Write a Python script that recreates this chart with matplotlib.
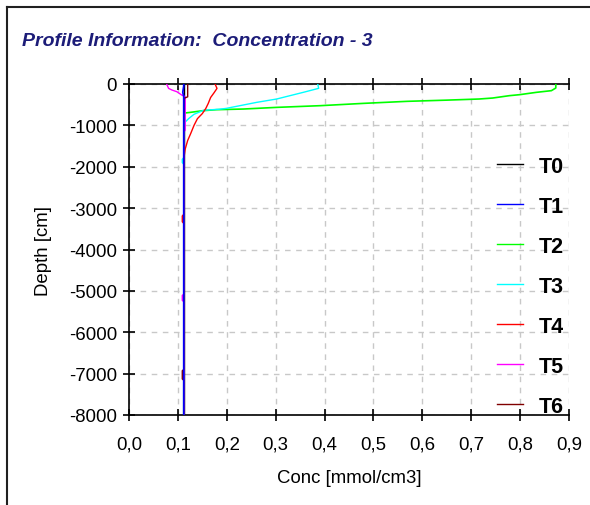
import matplotlib
matplotlib.use("Agg")
import matplotlib.pyplot as plt
from matplotlib.lines import Line2D

# Profile data: concentration [mmol/cm3] vs depth [cm]
labels = ["T0", "T1", "T2", "T3", "T4", "T5", "T6"]
colors = ["#000000", "#0000ff", "#00ff00", "#00ffff", "#ff0000", "#ff00ff", "#800000"]

t0_conc = [0.112, 0.112]
t0_depth = [0, -8000]

t1_conc = [0.112, 0.112, 0.110, 0.112, 0.112]
t1_depth = [0, -50, -200, -300, -8000]

t2_conc = [0.873, 0.873, 0.864, 0.833, 0.799, 0.778, 0.744, 0.716, 0.65, 0.569, 0.48,
           0.391, 0.302, 0.234, 0.179, 0.151, 0.126, 0.115, 0.113, 0.112]
t2_depth = [0, -97, -161, -202, -258, -282, -339, -363, -390, -419, -468,
            -524, -565, -605, -621, -645, -685, -700, -726, -8000]

t3_conc = [0.386, 0.388, 0.357, 0.302, 0.261, 0.199, 0.185, 0.153, 0.133, 0.122, 0.115,
           0.112, 0.112, 0.109, 0.109, 0.112, 0.112]
t3_depth = [0, -105, -200, -363, -444, -589, -610, -634, -732, -837, -919,
            -1010, -1780, -1820, -1900, -1940, -8000]

t4_conc = [0.176, 0.180, 0.174, 0.167, 0.162, 0.157, 0.150, 0.140, 0.133, 0.126, 0.120,
           0.115, 0.113, 0.112, 0.109, 0.109, 0.112, 0.112]
t4_depth = [0, -106, -211, -325, -472, -593, -715, -837, -1000, -1203, -1366,
            -1570, -1730, -3150, -3190, -3330, -3370, -8000]

t5_conc = [0.077, 0.081, 0.088, 0.098, 0.108, 0.115, 0.115, 0.112, 0.112, 0.109, 0.109,
           0.112, 0.112]
t5_depth = [0, -106, -146, -187, -268, -309, -1120, -1150, -5080, -5110, -5230,
            -5260, -8000]

t6_conc = [0.120, 0.120, 0.112, 0.112, 0.109, 0.109, 0.112, 0.112]
t6_depth = [0, -310, -350, -6900, -6930, -7130, -7160, -8000]

x_ticks = [0.0, 0.1, 0.2, 0.3, 0.4, 0.5, 0.6, 0.7, 0.8, 0.9]
x_tick_labels = ["0,0", "0,1", "0,2", "0,3", "0,4", "0,5", "0,6", "0,7", "0,8", "0,9"]
y_ticks = [0, -1000, -2000, -3000, -4000, -5000, -6000, -7000, -8000]


def main():
    plt.rcParams["font.family"] = ["Liberation Sans", "DejaVu Sans"]
    plt.rcParams["axes.unicode_minus"] = False

    fig = plt.figure(figsize=(5.9, 5.06), dpi=100)
    fig.patch.set_facecolor("white")

    # window frame (top and left edges)
    fig.add_artist(Line2D([7 / 590, 1.0], [1 - 8 / 506, 1 - 8 / 506], color="#202020", lw=1.5))
    fig.add_artist(Line2D([7 / 590, 7 / 590], [0.0, 1 - 8 / 506], color="#202020", lw=1.5))

    fig.text(22 / 590, 1 - 42 / 506, "Profile Information:  Concentration - 3",
             fontsize=14, fontweight="bold", fontstyle="italic", color="#1c1c78",
             ha="left", va="center")

    ax = fig.add_axes([129 / 590, 1 - 416 / 506, 440 / 590, 331 / 506])

    series = [(t0_conc, t0_depth), (t1_conc, t1_depth), (t2_conc, t2_depth),
              (t3_conc, t3_depth), (t4_conc, t4_depth), (t5_conc, t5_depth),
              (t6_conc, t6_depth)]
    for i, (conc, depth) in enumerate(series):
        lw = 1.3 if labels[i] == "T1" else 1.0
        if labels[i] == "T2":
            lw = 1.2
        z = 5 if labels[i] == "T1" else 3
        ax.plot(conc, depth, color=colors[i], lw=lw, zorder=z)

    ax.set_xlim(0, 0.9)
    ax.set_ylim(-8000, 0)
    ax.set_xticks(x_ticks)
    ax.set_xticklabels(x_tick_labels)
    ax.set_yticks(y_ticks)

    ax.grid(True, color="#c8c8c8", linestyle=(0, (4, 4)), lw=1)
    ax.set_axisbelow(True)

    ax.spines["right"].set_visible(False)
    for side in ["left", "top", "bottom"]:
        ax.spines[side].set_linewidth(1.2)
    ax.tick_params(axis="both", direction="inout", length=9, width=1.2,
                   labelsize=13.4, pad=4)
    ax.tick_params(axis="x", top=True, pad=10)

    ax.set_xlabel("Conc [mmol/cm3]", fontsize=13.4, labelpad=12)
    ax.set_ylabel("Depth [cm]", fontsize=13.4, labelpad=12)

    handles = [Line2D([], [], color=c, lw=1.0) for c in colors]
    ax.legend(handles, labels, loc="upper left", bbox_to_anchor=(497 / 590, 1 - 157 / 506),
              bbox_transform=fig.transFigure, frameon=False,
              prop={"weight": "bold", "size": 15.5}, handlelength=1.2,
              handletextpad=0.75, labelspacing=0.88, borderpad=0, borderaxespad=0)

    fig.savefig("out.png", dpi=100)


if __name__ == "__main__":
    main()
